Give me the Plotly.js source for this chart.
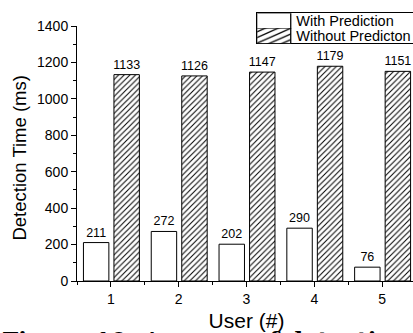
<!DOCTYPE html>
<html>
<head>
<meta charset="utf-8">
<script src="https://cdn.plot.ly/plotly-3.0.1.min.js"></script>
<style>
html,body{margin:0;padding:0;overflow:hidden;background:#fff;}
#chart{width:420px;height:333px;}
</style>
</head>
<body>
<div id="chart"></div>
<script>
var users = [1, 2, 3, 4, 5];
var withPrediction = [211, 272, 202, 290, 76];
var withoutPrediction = [1133, 1126, 1147, 1179, 1151];
var seriesNames = ["With Prediction", "Without Predicton"];
var yTitle = "Detection Time (ms)";
var xTitle = "User (#)";
var caption = "Figure 10: Average of detection";

var FONT = "Arial, 'Liberation Sans', sans-serif";

var traces = [
  {
    type: "bar",
    name: seriesNames[0],
    x: users,
    y: withPrediction,
    width: 0.375,
    offset: -0.405,
    marker: {color: "#ffffff", line: {color: "#000000", width: 1}},
    text: withPrediction.map(String),
    textposition: "outside",
    constraintext: "none",
    cliponaxis: false,
    textfont: {family: FONT, size: 12.5, color: "#000"},
    hoverinfo: "skip"
  },
  {
    type: "bar",
    name: seriesNames[1],
    x: users,
    y: withoutPrediction,
    width: 0.375,
    offset: 0.045,
    marker: {
      color: "#ffffff",
      line: {color: "#000000", width: 1},
      pattern: {shape: "/", fgcolor: "#000000", bgcolor: "#ffffff", size: 4, solidity: 0.25}
    },
    text: withoutPrediction.map(String),
    textposition: "outside",
    constraintext: "none",
    cliponaxis: false,
    textfont: {family: FONT, size: 12.5, color: "#000"},
    hoverinfo: "skip"
  }
];

var LEG_LEFT = 257.3, LEG_TOP = 12.3;
var PLOT_L = 77, PLOT_W = 341, PLOT_B = 281.5, PLOT_H = 255.5;

var layout = {
  width: 420,
  height: 333,
  margin: {l: PLOT_L, r: 2, t: 26, b: 51.5},
  paper_bgcolor: "#ffffff",
  plot_bgcolor: "#ffffff",
  font: {family: FONT, color: "#000"},
  showlegend: true,
  legend: {
    x: (LEG_LEFT - PLOT_L) / PLOT_W, xanchor: "left",
    y: (PLOT_B - LEG_TOP) / PLOT_H, yanchor: "top",
    bgcolor: "#ffffff",
    bordercolor: "#000000",
    borderwidth: 1,
    font: {family: FONT, size: 14.5, color: "#000"},
    itemwidth: 30,
    tracegroupgap: 0
  },
  xaxis: {
    range: [0.5, 5.5],
    tickmode: "linear", tick0: 1, dtick: 1,
    ticks: "outside", ticklen: 5, tickwidth: 1, tickcolor: "#000",
    minor: {dtick: 0.5, ticks: "outside", ticklen: 3, tickcolor: "#000"},
    showline: true, linecolor: "#000", linewidth: 1,
    showgrid: false, zeroline: false,
    tickfont: {family: FONT, size: 14, color: "#000"},
    title: {text: xTitle, font: {family: FONT, size: 21, color: "#000"}, standoff: 7},
    fixedrange: true
  },
  yaxis: {
    range: [0, 1400],
    tickmode: "linear", tick0: 0, dtick: 200,
    ticks: "outside", ticklen: 5, tickwidth: 1, tickcolor: "#000",
    minor: {dtick: 100, ticks: "outside", ticklen: 3, tickcolor: "#000"},
    showline: true, linecolor: "#000", linewidth: 1,
    showgrid: false, zeroline: false,
    tickfont: {family: FONT, size: 14, color: "#000"},
    fixedrange: true
  },
  annotations: [
    {
      text: yTitle,
      xref: "paper", yref: "paper",
      x: (19 - PLOT_L) / PLOT_W, xanchor: "center",
      y: (PLOT_B - 157.5) / PLOT_H, yanchor: "middle",
      textangle: -90,
      showarrow: false,
      font: {family: FONT, size: 18.5, color: "#000"}
    },
    {
      text: "<b>" + caption + "</b>",
      xref: "paper", yref: "paper",
      x: -PLOT_L / PLOT_W, xanchor: "left",
      y: (PLOT_B - 325) / PLOT_H, yanchor: "top",
      showarrow: false,
      font: {family: "'DejaVu Serif', serif", size: 23, color: "#000"}
    }
  ]
};

Plotly.newPlot("chart", traces, layout, {staticPlot: true, displayModeBar: false}).then(function (gd) {
  // compact the legend to match the reference's tight 15px rows and wide swatches
  var ROW = 15, SW = 34;
  var legend = gd.querySelector(".legend");
  if (!legend) return;
  var items = legend.querySelectorAll(".traces");
  items.forEach(function (it, i) {
    it.setAttribute("transform", "translate(0," + (1 + ROW / 2 + i * ROW) + ")");
    var p = it.querySelector(".legendpoints path");
    if (p) {
      p.setAttribute("transform", "translate(" + (SW / 2 + 0.5) + ",0) scale(" + (SW / 12) + "," + (ROW / 12) + ")");
      p.style.strokeWidth = "0.45px";
    }
  });
  var bg = legend.querySelector("rect.bg");
  if (bg) {
    bg.setAttribute("height", 2 * ROW + 1);
    bg.setAttribute("width", 200);
  }
  var clips = document.querySelectorAll("clipPath rect");
  clips.forEach(function (r) {
    var pid = r.parentNode.id || "";
    if (pid.indexOf("legend") >= 0) {
      r.setAttribute("width", 300);
      r.setAttribute("height", 200);
    }
  });
});
</script>
</body>
</html>
